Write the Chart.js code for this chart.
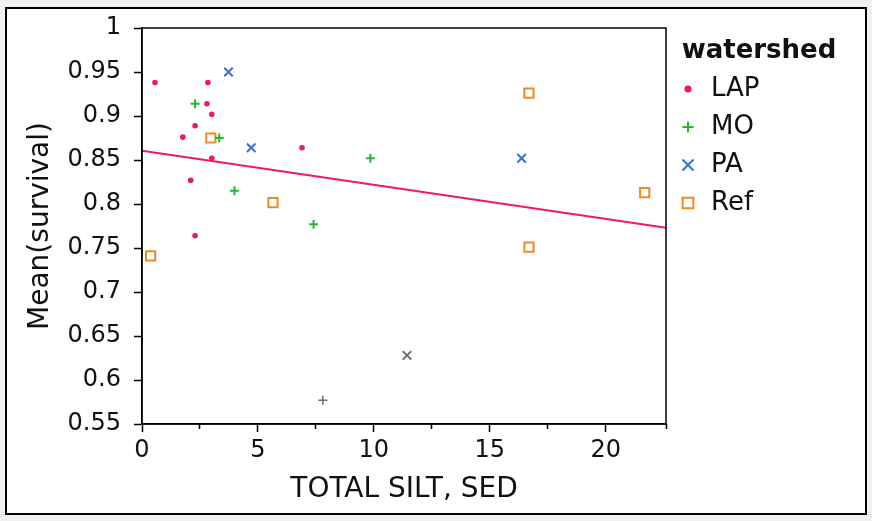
<!DOCTYPE html>
<html>
<head>
<meta charset="utf-8">
<script src="https://cdn.jsdelivr.net/npm/chart.js@4.4.1/dist/chart.umd.min.js"></script>
<style>
  html, body { margin: 0; padding: 0; background: #f1f1f1; }
  #chart { position: absolute; left: 0; top: 0; }
</style>
</head>
<body>
<canvas id="chart" width="872" height="521"></canvas>
<script>
// values
const watersheds = ['LAP', 'MO', 'PA', 'Ref'];
const lapSilt = [0.56, 2.84, 2.80, 3.01, 2.29, 1.76, 3.01, 2.10, 2.29, 6.90];
const lapSurv = [0.938, 0.938, 0.914, 0.902, 0.889, 0.876, 0.852, 0.827, 0.764, 0.864];
const moSilt = [2.29, 3.33, 3.99, 7.40, 9.85];
const moSurv = [0.914, 0.875, 0.815, 0.777, 0.852];
const paSilt = [3.73, 4.71, 16.37];
const paSurv = [0.950, 0.864, 0.852];
const refSilt = [2.97, 0.37, 5.65, 16.69, 16.69, 21.68];
const refSurv = [0.875, 0.741, 0.8015, 0.926, 0.751, 0.813];
// excluded rows (grey markers)
const exMoSilt = [7.80];
const exMoSurv = [0.577];
const exPaSilt = [11.43];
const exPaSurv = [0.628];
// fitted line
const fitIntercept = 0.8605;
const fitSlope = -0.00387;
const xMin = 0, xMax = 22.6;
const yMin = 0.55, yMax = 1;
const xMajorTicks = [0, 5, 10, 15, 20];
const xMinorTicks = [2.5, 7.5, 12.5, 17.5, 22.6];
const yTickLabels = ['0.55', '0.6', '0.65', '0.7', '0.75', '0.8', '0.85', '0.9', '0.95', '1'];

const colors = { LAP: '#ec1a5e', MO: '#22b936', PA: '#3a6fd6', Ref: '#ef8a22', ex: '#6a6a6a', fit: '#f0195a' };
const FONT = 'DejaVu Sans';

function pts(xs, ys) {
    return xs.map((x, i) => ({ x: x, y: ys[i] }));
}

// legend marker drawn with Chart.js's own point helper, on a small canvas
const legendMarkerSize = { LAP: 3.6, MO: 5.5, PA: 7.8, Ref: 7.6 };
function legendMarker(ds) {
    const cv = document.createElement('canvas');
    cv.width = 22; cv.height = 22;
    const c = cv.getContext('2d');
    c.fillStyle = ds.backgroundColor;
    c.strokeStyle = ds.borderColor;
    c.lineWidth = ds.borderWidth;
    Chart.helpers.drawPoint(c, {
        pointStyle: ds.pointStyle, radius: legendMarkerSize[ds.label],
        borderWidth: ds.borderWidth, rotation: 0
    }, 11, 11);
    return cv;
}

const framePlugin = {
    id: 'frame',
    beforeLayout(chart) {
        // fixed legend box width
        const lg = chart.legend;
        if (lg && !lg._fixedWidth) {
            const fit = lg.fit.bind(lg);
            lg.fit = function () { fit(); this.width = 186; };
            lg._fixedWidth = true;
        }
    },
    beforeDraw(chart) {
        const c = chart.ctx;
        c.save();
        c.fillStyle = '#ffffff';
        c.fillRect(6, 8, 860, 506);
        c.strokeStyle = '#000';
        c.lineWidth = 2;
        c.strokeRect(6, 8, 860, 506);
        c.restore();
    },
    afterDraw(chart) {
        const a = chart.chartArea;
        const c = chart.ctx;
        c.save();
        c.strokeStyle = '#000';
        c.lineWidth = 1.5;
        c.strokeRect(a.left, a.top, a.right - a.left, a.bottom - a.top);
        c.restore();
    }
};

new Chart(document.getElementById('chart'), {
    type: 'scatter',
    data: {
        datasets: [
            {
                label: 'LAP', data: pts(lapSilt, lapSurv),
                pointStyle: 'circle', pointRadius: 2.8, borderWidth: 0,
                backgroundColor: colors.LAP, borderColor: colors.LAP
            },
            {
                label: 'MO', data: pts(moSilt, moSurv),
                pointStyle: 'cross', pointRadius: 4.5, borderWidth: 2,
                backgroundColor: colors.MO, borderColor: colors.MO
            },
            {
                label: 'PA', data: pts(paSilt, paSurv),
                pointStyle: 'crossRot', pointRadius: 6, borderWidth: 2,
                backgroundColor: colors.PA, borderColor: colors.PA
            },
            {
                label: 'Ref', data: pts(refSilt, refSurv),
                pointStyle: 'rect', pointRadius: 6.5, borderWidth: 2,
                backgroundColor: 'rgba(255,255,255,0)', borderColor: colors.Ref
            },
            {
                label: 'MO (excluded)', data: pts(exMoSilt, exMoSurv),
                pointStyle: 'cross', pointRadius: 4.5, borderWidth: 1.5,
                backgroundColor: colors.ex, borderColor: colors.ex
            },
            {
                label: 'PA (excluded)', data: pts(exPaSilt, exPaSurv),
                pointStyle: 'crossRot', pointRadius: 6, borderWidth: 2,
                backgroundColor: colors.ex, borderColor: colors.ex
            },
            {
                type: 'line', label: 'fit',
                data: [xMin, xMax].map(x => ({ x: x, y: fitIntercept + fitSlope * x })),
                borderColor: colors.fit, borderWidth: 2, pointRadius: 0, fill: false
            }
        ]
    },
    options: {
        responsive: false,
        animation: false,
        devicePixelRatio: 1,
        layout: { padding: { top: 28, right: 20, bottom: 0, left: 0 } },
        plugins: {
            tooltip: { enabled: false },
            legend: {
                position: 'right',
                align: 'start',
                title: {
                    display: true, text: 'watershed', position: 'center',
                    color: '#111', padding: { top: 10, bottom: 0 },
                    font: { family: FONT, size: 26, weight: 'bold', lineHeight: 1 }
                },
                labels: {
                    usePointStyle: true, boxWidth: 20, boxHeight: 9, padding: 12,
                    color: '#111', font: { family: FONT, size: 26 },
                    generateLabels: chart => {
                        const items = Chart.defaults.plugins.legend.labels.generateLabels(chart)
                            .filter(it => watersheds.includes(it.text));
                        items.forEach(it => {
                            it.pointStyle = legendMarker(chart.data.datasets[it.datasetIndex]);
                        });
                        return items;
                    }
                }
            }
        },
        scales: {
            x: {
                type: 'linear', position: 'bottom', min: xMin, max: xMax, weight: 1,
                afterFit: s => { s.height = 97; },
                afterBuildTicks: s => { s.ticks = xMajorTicks.map(v => ({ value: v })); },
                grid: { drawOnChartArea: false, tickLength: 8, color: '#000', tickWidth: 1.5 },
                border: { display: true, color: '#000', width: 1.5 },
                ticks: { color: '#111', padding: 4, maxRotation: 0, font: { family: FONT, size: 24 } },
                title: {
                    display: true, text: 'TOTAL SILT, SED', color: '#111',
                    padding: { top: 0, bottom: 14 }, font: { family: FONT, size: 28 }
                }
            },
            xMinor: {
                type: 'linear', position: 'bottom', min: xMin, max: xMax, weight: 0,
                afterFit: s => { s.height = 0; },
                afterBuildTicks: s => { s.ticks = xMinorTicks.map(v => ({ value: v })); },
                grid: { drawOnChartArea: false, tickLength: 5, color: '#000', tickWidth: 1.5 },
                border: { display: false },
                ticks: { display: false }
            },
            y: {
                type: 'linear', min: yMin, max: yMax,
                afterFit: s => { s.width = 142; },
                afterBuildTicks: s => {
                    s.ticks = yTickLabels.map(t => ({ value: parseFloat(t) }));
                },
                grid: { drawOnChartArea: false, tickLength: 8, color: '#000', tickWidth: 1.5 },
                border: { display: true, color: '#000', width: 1.5 },
                ticks: {
                    color: '#111', padding: 13, font: { family: FONT, size: 24 },
                    callback: (v) => yTickLabels.find(t => parseFloat(t) === v) || ''
                },
                title: {
                    display: true, text: 'Mean(survival)', color: '#111',
                    padding: { top: 24, bottom: 0 }, font: { family: FONT, size: 28 }
                }
            }
        }
    },
    plugins: [framePlugin]
});
</script>
</body>
</html>
